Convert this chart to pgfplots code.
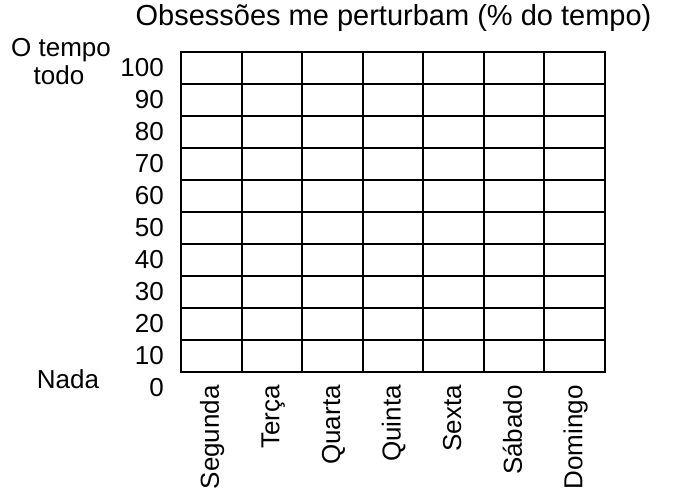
\documentclass[border=0pt]{standalone}
\usepackage{fontspec}
\setmainfont{Liberation Sans}
\usepackage{pgfplots}
\pgfplotsset{compat=1.18}
\newcommand\F{\fontsize{26bp}{30bp}\selectfont}
\newcommand\T{\fontsize{29bp}{33bp}\selectfont}
\begin{document}
\begin{tikzpicture}
\useasboundingbox (0,0) rectangle (674bp,494bp);
\begin{axis}[
  at={(181bp,122bp)}, anchor=south west,
  scale only axis, width=424bp, height=320bp,
  xmin=0, xmax=7, ymin=0, ymax=100,
  xtick={0.5,1.5,2.5,3.5,4.5,5.5,6.5},
  xticklabels={Segunda,Terça,Quarta,Quinta,Sexta,Sábado,Domingo},
  minor xtick={1,2,3,4,5,6},
  xminorgrids=true, xmajorgrids=false,
  ytick={0,10,20,30,40,50,60,70,80,90,100},
  yticklabels={0,10,20,30,40,50,60,70,80,90,100},
  ymajorgrids=true,
  major tick length=0pt, minor tick length=0pt,
  axis line style={line width=2bp},
  grid style={black, line width=2bp},
  minor grid style={black, line width=2bp},
  xticklabel style={xshift=5bp, rotate=90, anchor=mid east, inner sep=0pt, font=\F},
  xticklabel shift=13bp,
  yticklabel style={anchor=east, inner sep=0pt, yshift=-16bp, font=\F},
  yticklabel shift=17bp,
]
\addplot[draw=none] coordinates {(0,0) (7,100)};
\end{axis}
\node[anchor=base, font=\T] at (393.5bp,468bp) {Obsessões me perturbam (\% do tempo)};
\node[anchor=base, font=\F] at (61bp,437bp) {O tempo};
\node[anchor=base, font=\F] at (59bp,409bp) {todo};
\node[anchor=base, font=\F] at (68bp,105bp) {Nada};
\end{tikzpicture}
\end{document}
